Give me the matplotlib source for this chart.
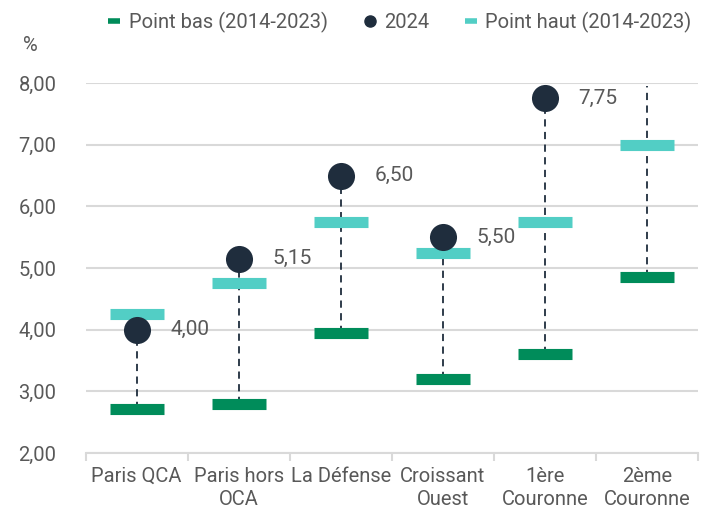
import numpy as np
import matplotlib

matplotlib.use("Agg")
import matplotlib.pyplot as plt
from matplotlib.lines import Line2D

# données
categories = ["Paris QCA", "Paris hors\nOCA", "La Défense", "Croissant\nOuest",
              "1ère\nCouronne", "2ème\nCouronne"]
point_bas = [2.72, 2.80, 3.95, 3.20, 3.60, 4.85]
point_haut = [4.25, 4.75, 5.75, 5.25, 5.75, 7.00]
val_2024 = [4.00, 5.15, 6.50, 5.50, 7.75, None]
haut_tirets = [4.00, 5.15, 6.50, 5.50, 7.75, 7.95]   # fin du trait pointillé
labels_2024 = ["4,00", "5,15", "6,50", "5,50", "7,75", ""]

C_BAS = "#008C5A"
C_HAUT = "#52CEC5"
C_DOT = "#1F2D3D"
C_TXT = "#595959"
C_GRID = "#D9D9D9"

plt.rcParams["font.family"] = ["Roboto", "DejaVu Sans"]
FS = 14.5

fig = plt.figure(figsize=(7.08, 5.11), dpi=100)
ax = fig.add_axes([0.121, 0.1135, 0.865, 0.724])

x = np.arange(len(categories))
w = 0.53

for i in x:
    # trait pointillé bas -> haut
    ax.plot([i, i], [point_bas[i], haut_tirets[i]], color=C_DOT, lw=1.3,
            ls=(0, (4, 3)), zorder=2)
    ax.plot([i - w / 2, i + w / 2], [point_bas[i]] * 2, color=C_BAS, lw=8,
            solid_capstyle="butt", zorder=3)
    ax.plot([i - w / 2, i + w / 2], [point_haut[i]] * 2, color=C_HAUT, lw=8,
            solid_capstyle="butt", zorder=3)
    if val_2024[i] is not None:
        ax.scatter(i, val_2024[i], s=380, color=C_DOT, zorder=4, linewidths=0)
        ax.annotate(labels_2024[i], (i, val_2024[i]), xytext=(24, 0),
                    textcoords="offset points", va="center", ha="left",
                    fontsize=FS + 0.5, color=C_TXT)

ax.set_xlim(-0.5, len(categories) - 0.5)
ax.set_ylim(2, 8)
ax.set_yticks(np.arange(2, 8.01, 1))
ax.set_yticklabels([f"{v:.2f}".replace(".", ",") for v in np.arange(2, 8.01, 1)])
ax.yaxis.grid(True, color=C_GRID, lw=1.5)
ax.set_axisbelow(True)
for s in ["top", "right", "left"]:
    ax.spines[s].set_visible(False)
ax.spines["bottom"].set_color(C_GRID)
ax.spines["bottom"].set_linewidth(1.5)
ax.tick_params(axis="y", length=0, labelsize=FS, labelcolor=C_TXT, pad=21)

ax.set_xticks(x)
ax.set_xticklabels(categories)
ax.tick_params(axis="x", length=0, labelsize=FS, labelcolor=C_TXT, pad=10)
ax.set_xticks(np.arange(-0.5, len(categories), 1), minor=True)
ax.tick_params(axis="x", which="minor", length=6, color=C_GRID, width=1.5)
for t in ax.get_xticklabels():
    t.set_linespacing(1.3)

fig.text(0.033, 0.91, "%", fontsize=FS, color=C_TXT, va="center")

handles = [
    Line2D([], [], color=C_BAS, lw=4, solid_capstyle="butt"),
    Line2D([], [], marker="o", ls="", color=C_DOT, markersize=8),
    Line2D([], [], color=C_HAUT, lw=4, solid_capstyle="butt"),
]
fig.legend(handles, ["Point bas (2014-2023)", "2024", "Point haut (2014-2023)"],
           loc="center", bbox_to_anchor=(0.565, 0.957), ncol=3, frameon=False,
           fontsize=FS, labelcolor=C_TXT, handlelength=0.6, handletextpad=0.4,
           columnspacing=1.8)

fig.savefig("out.png", dpi=100)
